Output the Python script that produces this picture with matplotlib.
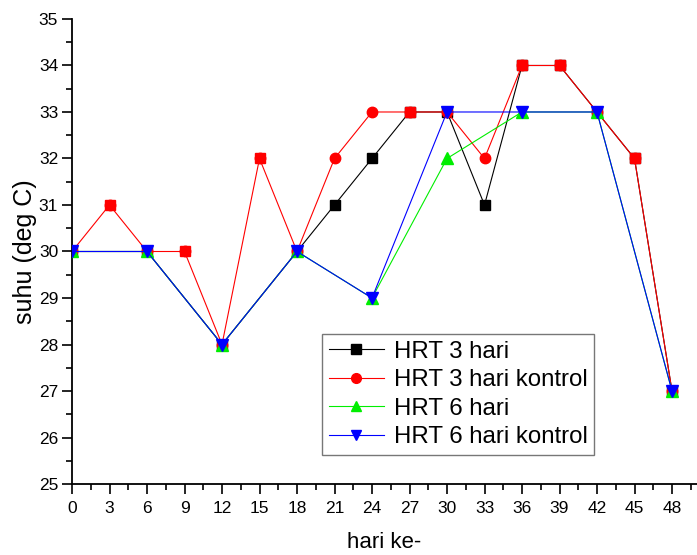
import matplotlib
matplotlib.use("Agg")
import matplotlib.pyplot as plt
from matplotlib.ticker import MultipleLocator

plt.rcParams['font.family'] = ['Liberation Sans', 'DejaVu Sans']

# Day of observation and measured temperature (deg C)
hrt3_days = [0, 6, 12, 18, 21, 24, 27, 30, 33, 36, 39, 42, 45, 48]
hrt3_temp = [30, 30, 28, 30, 31, 32, 33, 33, 31, 34, 34, 33, 32, 27]

hrt3k_days = [0, 3, 6, 9, 12, 15, 18, 21, 24, 27, 30, 33, 36, 39, 42, 45, 48]
hrt3k_temp = [30, 31, 30, 30, 28, 32, 30, 32, 33, 33, 33, 32, 34, 34, 33, 32, 27]
hrt3k_marker = ['o', 's', 'o', 's', 'o', 's', 'o', 'o', 'o', 's', 'o', 'o', 's', 's', 'o', 's', 'o']

hrt6_days = [0, 6, 12, 18, 24, 30, 36, 42, 48]
hrt6_temp = [30, 30, 28, 30, 29, 32, 33, 33, 27]

hrt6k_days = [0, 6, 12, 18, 24, 30, 36, 42, 48]
hrt6k_temp = [30, 30, 28, 30, 29, 33, 33, 33, 27]

labels = ["HRT 3 hari", "HRT 3 hari kontrol", "HRT 6 hari", "HRT 6 hari kontrol"]
x_ticks = list(range(0, 49, 3))

fig = plt.figure(figsize=(6.97, 5.55), dpi=100)
ax = fig.add_axes([0.1033, 0.1279, 0.8967, 0.8379])

lw = 0.8
ax.plot(hrt3_days, hrt3_temp, color='black', lw=lw, marker='s', ms=7,
        label=labels[0], zorder=2)

ax.plot(hrt3k_days, hrt3k_temp, color='red', lw=lw, marker='o', ms=7.5,
        label=labels[1], zorder=3)
for d, t, m in zip(hrt3k_days, hrt3k_temp, hrt3k_marker):
    if m == 's':
        ax.plot([d], [t], color='red', marker='s', ms=7.2, ls='none', zorder=3.1)

ax.plot(hrt6_days, hrt6_temp, color='#00ee00', lw=lw, marker='^', ms=8.5,
        label=labels[2], zorder=4)
ax.plot(hrt6k_days, hrt6k_temp, color='blue', lw=lw, marker='v', ms=8.5,
        label=labels[3], zorder=5)

ax.set_xlim(0, 50)
ax.set_ylim(25, 35)
ax.set_xticks(x_ticks)
ax.xaxis.set_minor_locator(MultipleLocator(1.5))
ax.yaxis.set_major_locator(MultipleLocator(1))
ax.yaxis.set_minor_locator(MultipleLocator(0.5))

for side in ('top', 'right'):
    ax.spines[side].set_visible(False)
for side in ('left', 'bottom'):
    ax.spines[side].set_linewidth(1.3)

ax.tick_params(which='major', direction='out', length=7, width=1.2,
               labelsize=12.5, pad=3)
ax.tick_params(axis='x', which='major', pad=5)
ax.tick_params(which='minor', direction='out', length=4, width=1.2)

ax.set_xlabel("hari ke-", fontsize=16, labelpad=12)
ax.set_ylabel("suhu (deg C)", fontsize=18, labelpad=1)

leg = ax.legend(loc='upper left', bbox_to_anchor=(0.4, 0.3226),
                fontsize=17.3, frameon=True, fancybox=False, edgecolor='#555555',
                handlelength=2.3, handletextpad=0.4, borderpad=0.28,
                labelspacing=0.27, borderaxespad=0)
leg.get_frame().set_linewidth(1.0)
for h in leg.legend_handles:
    h.set_markersize(7)

fig.savefig("out.png", dpi=100)
